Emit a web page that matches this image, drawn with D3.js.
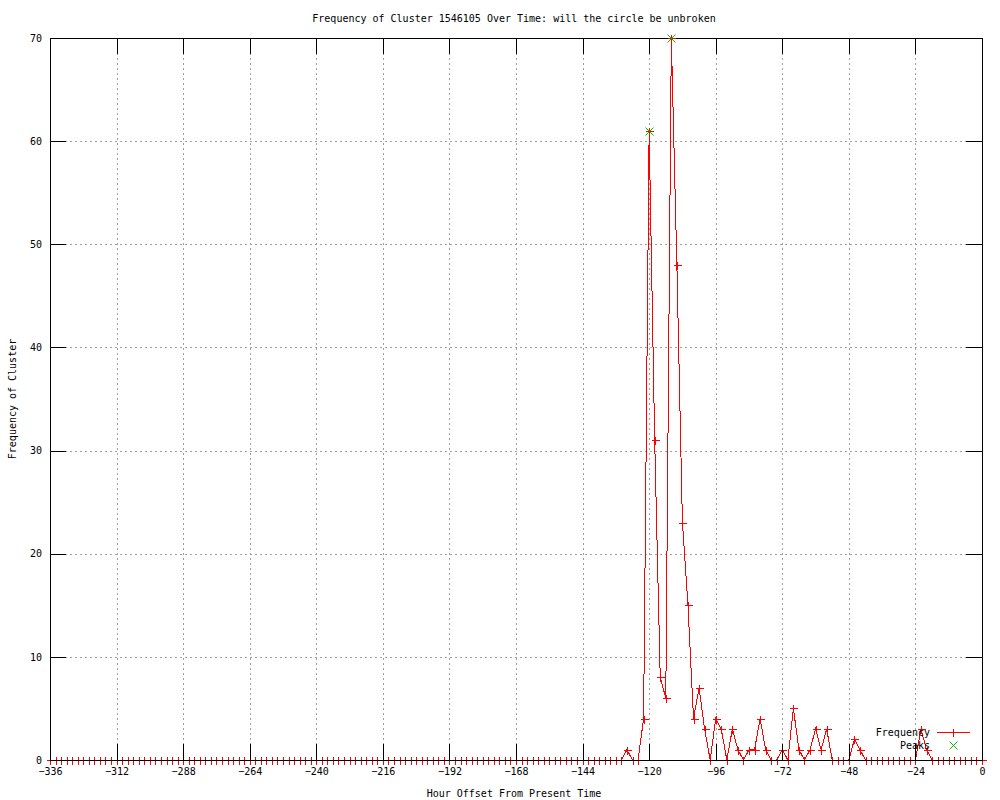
<!DOCTYPE html>
<html>
<head>
<meta charset="utf-8">
<script src="https://cdn.jsdelivr.net/npm/d3@7"></script>
<style>
  body { margin: 0; background: #fff; }
  svg text { font-family: "DejaVu Sans Mono", "Liberation Mono", monospace; font-size: 10px; fill: #000; }
</style>
</head>
<body>
<div id="chart"></div>
<script>
// data: one sample every 2 hours, -336 .. 0
const hours = d3.range(-336, 1, 2);
const frequency = [
  0, 0, 0, 0, 0, 0, 0, 0, 0, 0, 0, 0,   // -336 .. -314
  0, 0, 0, 0, 0, 0, 0, 0, 0, 0, 0, 0,   // -312 .. -290
  0, 0, 0, 0, 0, 0, 0, 0, 0, 0, 0, 0,   // -288 .. -266
  0, 0, 0, 0, 0, 0, 0, 0, 0, 0, 0, 0,   // -264 .. -242
  0, 0, 0, 0, 0, 0, 0, 0, 0, 0, 0, 0,   // -240 .. -218
  0, 0, 0, 0, 0, 0, 0, 0, 0, 0, 0, 0,   // -216 .. -194
  0, 0, 0, 0, 0, 0, 0, 0, 0, 0, 0, 0,   // -192 .. -170
  0, 0, 0, 0, 0, 0, 0, 0, 0, 0, 0, 0,   // -168 .. -146
  0, 0, 0, 0, 0, 0, 0, 0, 1, 0, 0, 4,   // -144 .. -122
  61, 31, 8, 6, 70, 48, 23, 15, 4, 7, 3, 0,  // -120 .. -98
  4, 3, 0, 3, 1, 0, 1, 1, 4, 1, 0, 0,   // -96 .. -74
  1, 0, 5, 1, 0, 1, 3, 1, 3, 0, 0, 0,   // -72 .. -50
  0, 2, 1, 0, 0, 0, 0, 0, 0, 0, 0, 0,   // -48 .. -26
  0, 3, 1, 0, 0, 0, 0, 0, 0, 0, 0, 0,   // -24 .. -2
  0                                     // 0
];
const peakHours = [-120, -112];
const peakValues = [61, 70];

const xTicks = [-336, -312, -288, -264, -240, -216, -192, -168, -144, -120, -96, -72, -48, -24, 0];
const yTicks = [0, 10, 20, 30, 40, 50, 60, 70];

const TITLE = 'Frequency of Cluster 1546105 Over Time: will the circle be unbroken';
const X_LABEL = 'Hour Offset From Present Time';
const Y_LABEL = 'Frequency of Cluster';

// dimensions
const WIDTH = 1000;
const HEIGHT = 800;
const LEFT = 50;
const RIGHT = 982;
const TOP = 38;
const BOTTOM = 760;
const TICK = 16;

const RED = '#ff0000';
const GREEN = '#00c000';

const $svg = d3.select('#chart').append('svg')
  .attr('width', WIDTH)
  .attr('height', HEIGHT);

const scaleX = d3.scaleLinear().domain([-336, 0]).range([LEFT, RIGHT]);
const scaleY = d3.scaleLinear().domain([0, 70]).range([BOTTOM, TOP]);

const px = v => Math.round(scaleX(v)) + 0.5;
const py = v => Math.round(scaleY(v)) + 0.5;

// grid
const $grid = $svg.append('g').attr('class', 'grid')
  .attr('stroke', '#a0a0a0')
  .attr('stroke-dasharray', '2,3')
  .attr('shape-rendering', 'crispEdges');

$grid.selectAll('.gx')
  .data(xTicks.slice(1, -1))
  .join('line')
  .attr('x1', px)
  .attr('x2', px)
  .attr('y1', TOP)
  .attr('y2', BOTTOM);

$grid.selectAll('.gy')
  .data(yTicks.slice(1, -1))
  .join('line')
  .attr('y1', py)
  .attr('y2', py)
  .attr('x1', LEFT)
  .attr('x2', RIGHT);

// data line
const line = d3.line()
  .x((d, i) => scaleX(hours[i]))
  .y(d => scaleY(d));

const $vis = $svg.append('g').attr('class', 'g-vis');

$vis.append('path')
  .datum(frequency)
  .attr('d', line)
  .attr('fill', 'none')
  .attr('stroke', RED)
  .attr('stroke-width', 1)
  .attr('shape-rendering', 'crispEdges');

function plus(sel, color) {
  sel.append('path')
    .attr('d', 'M-4,0H4M0,-4V4')
    .attr('stroke', color)
    .attr('fill', 'none')
    .attr('shape-rendering', 'crispEdges');
}

function cross(sel, color) {
  sel.append('path')
    .attr('d', 'M-4,-4L4,4M-4,4L4,-4')
    .attr('stroke', color)
    .attr('fill', 'none');
}

$vis.selectAll('.pt')
  .data(frequency)
  .join('g')
  .attr('class', 'pt')
  .attr('transform', (d, i) => `translate(${px(hours[i])},${py(d)})`)
  .call(plus, RED);

// axes
const $axis = $svg.append('g').attr('class', 'g-axis');

function styleAxis(g) {
  g.select('.domain').remove();
  g.selectAll('.tick line').attr('stroke', '#000').attr('shape-rendering', 'crispEdges');
  g.selectAll('.tick text').attr('font-family', null).attr('font-size', null);
}

$axis.append('g')
  .attr('transform', `translate(0,${BOTTOM})`)
  .call(d3.axisBottom(scaleX).tickValues(xTicks).tickSize(-TICK).tickPadding(8))
  .call(styleAxis);

$axis.append('g')
  .attr('transform', `translate(0,${TOP})`)
  .call(d3.axisTop(scaleX).tickValues(xTicks).tickSize(-TICK).tickFormat(''))
  .call(styleAxis);

$axis.append('g')
  .attr('transform', `translate(${LEFT},0)`)
  .call(d3.axisLeft(scaleY).tickValues(yTicks).tickSize(-TICK).tickPadding(8))
  .call(styleAxis);

$axis.append('g')
  .attr('transform', `translate(${RIGHT},0)`)
  .call(d3.axisRight(scaleY).tickValues(yTicks).tickSize(-TICK).tickFormat(''))
  .call(styleAxis);

// border
$axis.append('rect')
  .attr('x', LEFT + 0.5)
  .attr('y', TOP + 0.5)
  .attr('width', RIGHT - LEFT)
  .attr('height', BOTTOM - TOP)
  .attr('fill', 'none')
  .attr('stroke', '#000')
  .attr('shape-rendering', 'crispEdges');

// peaks drawn over the border
$svg.append('g').selectAll('.peak')
  .data(peakValues)
  .join('g')
  .attr('class', 'peak')
  .attr('transform', (d, i) => `translate(${px(peakHours[i])},${py(d)})`)
  .call(plus, RED)
  .call(cross, GREEN);

// labels
$svg.append('text')
  .attr('x', 514)
  .attr('y', 22)
  .attr('text-anchor', 'middle')
  .text(TITLE);

$svg.append('text')
  .attr('x', 514)
  .attr('y', 797)
  .attr('text-anchor', 'middle')
  .text(X_LABEL);

$svg.append('text')
  .attr('transform', `translate(16,${(TOP + BOTTOM) / 2}) rotate(-90)`)
  .attr('text-anchor', 'middle')
  .text(Y_LABEL);

// legend
const $legend = $svg.append('g').attr('class', 'legend');

$legend.append('text')
  .attr('x', 930)
  .attr('y', 736)
  .attr('text-anchor', 'end')
  .text('Frequency');

$legend.append('line')
  .attr('x1', 937)
  .attr('x2', 970)
  .attr('y1', 732.5)
  .attr('y2', 732.5)
  .attr('stroke', RED)
  .attr('shape-rendering', 'crispEdges');

$legend.append('g')
  .attr('transform', 'translate(953.5,732.5)')
  .call(plus, RED);

$legend.append('text')
  .attr('x', 930)
  .attr('y', 749)
  .attr('text-anchor', 'end')
  .text('Peaks');

$legend.append('g')
  .attr('transform', 'translate(953.5,745.5)')
  .call(cross, GREEN);
</script>
</body>
</html>
